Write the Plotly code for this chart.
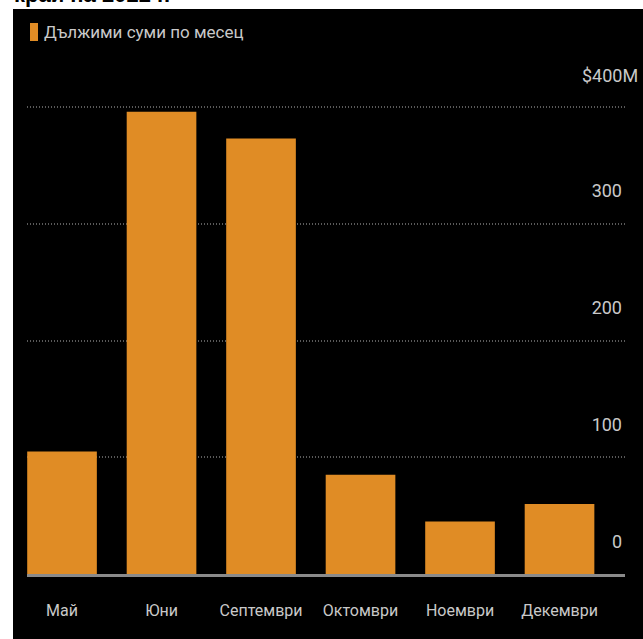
import plotly.graph_objects as go

months = ["Май", "Юни", "Септември", "Октомври", "Ноември", "Декември"]
amounts = [105, 396, 373, 85, 45, 60]
y_ticks = [0, 100, 200, 300, 400]
y_ticktext = ["0", "100", "200", "300", ""]
series_name = "Дължими суми по месец"
title_text = "край на 2022 г."
top_label = "$400M"

ORANGE = "#E08C25"
TEXT = "#c9c9c9"
NARROW = "Roboto, Liberation Sans Narrow, sans-serif"

W, H = 643, 639
L, R, T, B = 27, 18, 104, 65
pw, ph = W - L - R, H - T - B

def px_x(x):
    return (x - L) / pw

def px_y(y):
    return (H - B - y) / ph

fig = go.Figure()
fig.add_trace(go.Bar(
    x=months, y=amounts, name=series_name,
    marker=dict(color=ORANGE, line=dict(width=0)),
    showlegend=False,
))

# black panel
fig.add_shape(type="rect", xref="paper", yref="paper",
              x0=px_x(13), x1=px_x(W + 5), y0=px_y(9), y1=px_y(H + 5),
              fillcolor="#000000", line=dict(width=0), layer="below")
# legend swatch
fig.add_shape(type="rect", xref="paper", yref="paper",
              x0=px_x(30), x1=px_x(38), y0=px_y(41), y1=px_y(23),
              fillcolor=ORANGE, line=dict(width=0))
fig.add_annotation(text=series_name, xref="paper", yref="paper",
                   x=px_x(42), y=px_y(32), xanchor="left", yanchor="middle",
                   showarrow=False, font=dict(family=NARROW, size=17, color=TEXT))
# cut-off headline
fig.add_annotation(text="<b>" + title_text + "</b>", xref="paper", yref="paper",
                   x=px_x(12), y=px_y(9), xanchor="left", yanchor="bottom",
                   showarrow=False, font=dict(family="Liberation Sans, Arial, sans-serif", size=22, color="#000000"))
# top tick label
fig.add_annotation(text=top_label, xref="paper", yref="y",
                   x=px_x(640), y=y_ticks[-1], xanchor="right", yanchor="middle",
                   yshift=32, showarrow=False,
                   font=dict(family=NARROW, size=18, color=TEXT))

fig.update_layout(
    width=W, height=H,
    margin=dict(l=L, r=R, t=T, b=B, autoexpand=False),
    paper_bgcolor="#ffffff", plot_bgcolor="#000000",
    bargap=0.3,
    font=dict(family=NARROW, color=TEXT),
)
fig.update_xaxes(
    range=[-0.352, 5.658], showgrid=False, showline=True,
    linecolor="#8a8a8a", linewidth=3, ticks="", tickangle=0,
    automargin=False,
    tickfont=dict(family=NARROW, size=16, color=TEXT),
    ticklabelstandoff=20, fixedrange=True,
)
fig.update_yaxes(
    range=[0, 402.6], side="right", tickvals=y_ticks, ticktext=y_ticktext,
    showgrid=True, gridcolor="#5a5a5a", gridwidth=2, griddash="1px,2px",
    zeroline=False, showline=False, ticks="", automargin=False,
    ticklabelposition="inside top", ticklabelshift=-20,
    tickfont=dict(family=NARROW, size=18, color=TEXT),
)

fig.write_html("out.html")
